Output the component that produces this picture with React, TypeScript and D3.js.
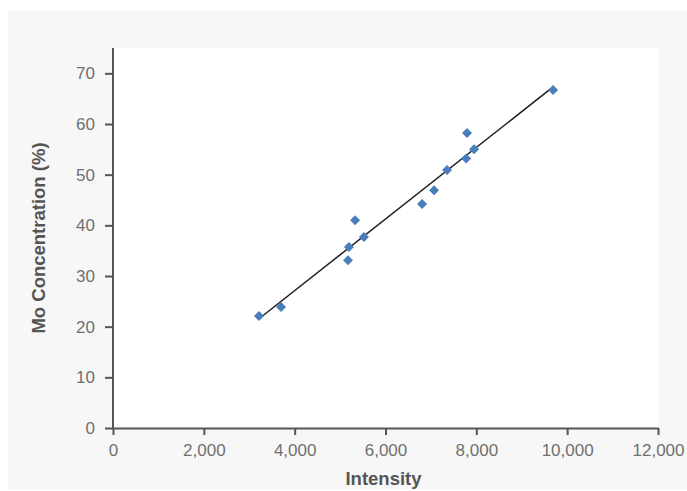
import React, { useRef, useEffect } from "react";
import * as d3 from "d3";

// intensity vs Mo concentration (%)
const intensity = [3215, 3700, 5195, 5330, 5175, 5525, 6805, 7070, 7355, 7775, 7795, 7950, 9690];
const moConc = [22.1, 23.9, 35.7, 41.0, 33.1, 37.7, 44.2, 46.9, 50.9, 53.2, 58.2, 55.0, 66.7];
const xTicks = [0, 2000, 4000, 6000, 8000, 10000, 12000];
const yTicks = [0, 10, 20, 30, 40, 50, 60, 70];

const W = 687;
const H = 491;
const margin = { left: 113, right: 29, top: 48, bottom: 63 };

function ScatterChart() {
  const svgRef = useRef<SVGSVGElement>(null);

  const draw = () => {
    const svg = d3.select(svgRef.current);
    svg.selectAll("*").remove();

    const innerW = W - margin.left - margin.right;
    const innerH = H - margin.top - margin.bottom;

    const x = d3.scaleLinear().domain([0, 12000]).range([0, innerW]);
    const y = d3.scaleLinear().domain([0, 75]).range([innerH, 0]);

    // gray panel behind everything
    svg.append("rect").attr("x", 8).attr("y", 11).attr("width", 679).attr("height", 478).attr("fill", "#f7f7f7");

    const g = svg.append("g").attr("transform", "translate(" + margin.left + "," + margin.top + ")");

    g.append("rect").attr("width", innerW).attr("height", innerH).attr("fill", "#fff");

    // trend line (least squares over the points)
    const pts = intensity.map((v, i) => ({ x: v, y: moConc[i] }));
    const mx = d3.mean(pts, d => d.x)!;
    const my = d3.mean(pts, d => d.y)!;
    const slope = d3.sum(pts, d => (d.x - mx) * (d.y - my)) / d3.sum(pts, d => (d.x - mx) ** 2);
    const icpt = my - slope * mx;
    const [x0, x1] = d3.extent(intensity) as [number, number];
    g.append("line")
      .attr("x1", x(x0)).attr("y1", y(icpt + slope * x0))
      .attr("x2", x(x1)).attr("y2", y(icpt + slope * x1))
      .attr("stroke", "#1e1e1e").attr("stroke-width", 1.5);

    const diamond = d3.symbol().type(d3.symbolSquare).size(50);
    g.selectAll("path.pt")
      .data(pts)
      .join("path")
      .attr("class", "pt")
      .attr("d", diamond)
      .attr("transform", d => "translate(" + x(d.x) + "," + y(d.y) + ") rotate(45)")
      .attr("fill", "#4a7ebb");

    const font = "'Liberation Sans', Arial, sans-serif";

    // y axis
    const yAxis = g.append("g").call(d3.axisLeft(y).tickValues(yTicks).tickSize(8).tickPadding(10).tickSizeOuter(0));
    yAxis.select(".domain").attr("stroke", "#555").attr("stroke-width", 2).attr("d", "M0," + innerH + "V0");
    yAxis.selectAll(".tick line").attr("stroke", "#555").attr("stroke-width", 2);
    yAxis.selectAll(".tick text").attr("fill", "#707070").style("font", "17px " + font);

    // x axis
    const xAxis = g.append("g")
      .attr("transform", "translate(0," + innerH + ")")
      .call(d3.axisBottom(x).tickValues(xTicks).tickFormat(d3.format(",")).tickSize(7).tickPadding(9).tickSizeOuter(0));
    xAxis.select(".domain").attr("stroke", "#555").attr("stroke-width", 2);
    xAxis.selectAll(".tick line").attr("stroke", "#555").attr("stroke-width", 2);
    xAxis.selectAll(".tick text").attr("fill", "#707070").style("font", "17px " + font);

    // titles
    svg.append("text")
      .attr("x", margin.left + innerW / 2 - 2).attr("y", 485)
      .attr("text-anchor", "middle")
      .attr("fill", "#555").style("font", "bold 18.5px " + font)
      .text("Intensity");

    svg.append("text")
      .attr("transform", "translate(45," + (margin.top + innerH / 2) + ") rotate(-90)")
      .attr("text-anchor", "middle")
      .attr("fill", "#555").style("font", "bold 18.5px " + font)
      .text("Mo Concentration (%)");
  };

  useEffect(() => {
    draw();
  });

  return <svg ref={svgRef} width={W} height={H} style={{ display: "block" }}></svg>;
}

export default function App() {
  return (
    <div style={{ position: "absolute", left: 0, top: 0 }}>
      <ScatterChart />
    </div>
  );
}
